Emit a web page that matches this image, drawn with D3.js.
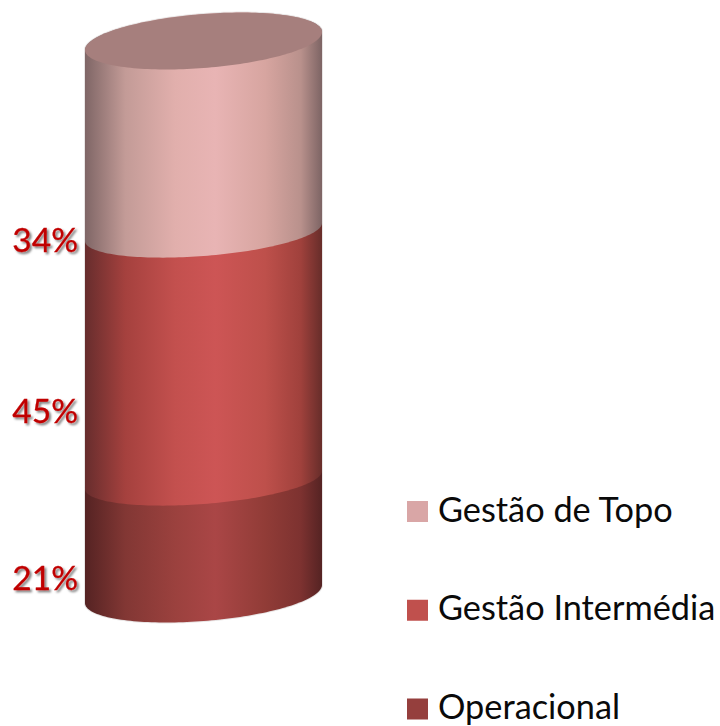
<!DOCTYPE html>
<html><head><meta charset="utf-8">
<script src="https://cdn.jsdelivr.net/npm/d3@7"></script>
<style>html,body{margin:0;background:#fff}svg{display:block}</style></head>
<body><svg id="c" width="720" height="726"></svg>
<script>
// Data, stacked from the base of the cylinder upward
const categories = ["Operacional", "Gestão Intermédia", "Gestão de Topo"];
const values = [21, 45, 34];
const legendOrder = ["Gestão de Topo", "Gestão Intermédia", "Operacional"];
const legendColors = ["#d9a6a6", "#c0504d", "#953f3d"];
const gradTop = ["#7f6666","#c39b97","#e1afac","#e8b4b4","#d7a5a0","#b9918c","#7d6464"];
const gradMid = ["#672d2d","#a5413e","#c3504e","#cd5555","#be504b","#a0413c","#672d2a"];
const gradLow = ["#552323","#823734","#9b413e","#aa4646","#913c37","#7d3230","#552323"];
const gradients = [gradLow, gradMid, gradTop];

const svg = d3.select("#c");
const defs = svg.append("defs");

const cx0 = 85, cx1 = 322;
const x = d3.scaleLinear().domain([-1, 1]).range([cx0, cx1]);
// Cumulative percentage to left-edge pixel height, following the picture's perspective
const cum = d3.cumsum(values);
const y = d3.scaleLinear().domain([0, cum[0], cum[1], 100]).range([603, 489, 241, 50]);

const tilt = 9;
const depthOf = level => (level === 0 || level === 100) ? 27 : 24;
const stopAt = [0, .17, .38, .55, .76, .91, 1];
gradients.forEach((g, i) => {
  const lg = defs.append("linearGradient").attr("id", "g" + i)
    .attr("gradientUnits", "userSpaceOnUse").attr("x1", cx0).attr("x2", cx1).attr("y1", 0).attr("y2", 0);
  g.forEach((c, j) => lg.append("stop").attr("offset", stopAt[j]).attr("stop-color", c));
});
const sh = defs.append("filter").attr("id", "ts").attr("x", "-20%").attr("y", "-20%").attr("width", "150%").attr("height", "150%");
sh.append("feDropShadow").attr("dx", 2).attr("dy", 2).attr("stdDeviation", 1.2).attr("flood-color", "#000").attr("flood-opacity", .5);

// Ellipse point at parameter t for a cumulative level
const pt = (level, t) => [x(-Math.cos(t)), y(level) - tilt + tilt * Math.cos(t) + depthOf(level) * Math.sin(t)];
const N = 90;
const line = d3.line();
const stackLevels = [0, ...cum];

// Soft edge glow behind the body
svg.append("path")
  .attr("d", line([...d3.range(N + 1).map(k => pt(0, Math.PI * k / N)), ...d3.range(N + 1).map(k => pt(100, Math.PI * (1 + k / N)))]) + "Z")
  .attr("fill", "none").attr("stroke", "#d8d4d4").attr("stroke-width", 2).attr("opacity", .6);

values.forEach((v, i) => {
  const lower = d3.range(N + 1).map(k => pt(stackLevels[i], Math.PI * k / N));
  const back = d3.range(N + 1).map(k => pt(stackLevels[i + 1], Math.PI * (1 + k / N)));
  svg.append("path").datum(categories[i])
    .attr("d", line([...lower, ...back]) + "Z")
    .attr("fill", `url(#g${i})`);
});
// Top cap
svg.append("path").attr("d", line(d3.range(2 * N + 1).map(k => pt(100, Math.PI * k / N))) + "Z").attr("fill", "#a67f7d");

// Percentage labels
const labelY = [590, 423, 252];
svg.selectAll("text.pct").data(values).join("text").attr("class", "pct")
  .attr("x", 78).attr("y", (d, i) => labelY[i])
  .attr("text-anchor", "end").attr("font-family", "Lato, 'Open Sans', sans-serif")
  .attr("font-size", 33.5).attr("fill", "#c00000").attr("stroke", "#c00000").attr("stroke-width", .3).attr("filter", "url(#ts)")
  .text(d => d + "%");

// Legend
const ly = d3.scalePoint().domain(legendOrder).range([511.5, 709]);
const color = d3.scaleOrdinal().domain(legendOrder).range(legendColors);
svg.selectAll("rect.lg").data(legendOrder).join("rect").attr("class", "lg")
  .attr("x", 407).attr("y", d => ly(d) - 10.5).attr("width", 21).attr("height", 21).attr("fill", d => color(d));
svg.selectAll("text.lg").data(legendOrder).join("text").attr("class", "lg")
  .attr("x", 438).attr("y", d => ly(d) + 10)
  .attr("font-family", "Lato, 'Open Sans', sans-serif").attr("font-size", 34.3).attr("fill", "#0a0a0a")
  .text(d => d);
</script></body></html>
